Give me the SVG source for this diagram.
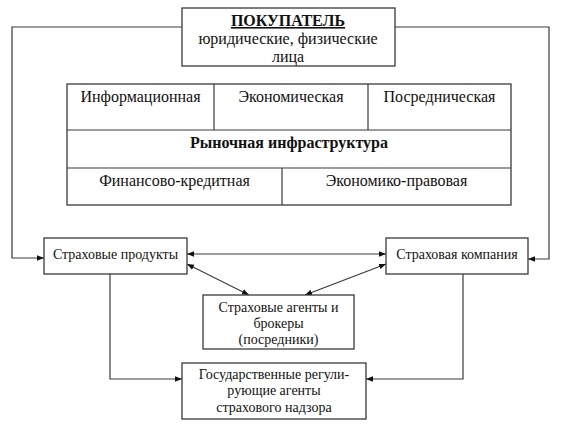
<svg xmlns="http://www.w3.org/2000/svg" width="561" height="428" viewBox="0 0 561 428">
<style>
.box{fill:#fff;stroke:#3a3a3a;stroke-width:1.3}
.ln{fill:none;stroke:#3a3a3a;stroke-width:1.2}
.t15{font-family:"Liberation Serif","Times New Roman",serif;font-size:16px;fill:#111;text-anchor:middle}
.t13{font-family:"Liberation Serif","Times New Roman",serif;font-size:14px;fill:#111;text-anchor:middle}
.b{font-weight:bold}
</style>
<defs>
<marker id="ah" viewBox="0 0 10 10" refX="10" refY="5" markerWidth="7" markerHeight="7" markerUnits="userSpaceOnUse" orient="auto-start-reverse">
<path d="M0,1 L10,5 L0,9 Z" fill="#111"/>
</marker>
</defs>
<rect width="561" height="428" fill="#fff"/>
<g id="connectors">
<path class="ln" d="M182,27 H12 V258 H44" marker-end="url(#ah)"/>
<path class="ln" d="M395,27 H549 V259 H528" marker-end="url(#ah)"/>
<line class="ln" x1="187" y1="254" x2="386" y2="254" marker-start="url(#ah)" marker-end="url(#ah)"/>
<line class="ln" x1="187" y1="264" x2="249" y2="295" marker-start="url(#ah)" marker-end="url(#ah)"/>
<line class="ln" x1="386" y1="264" x2="305" y2="295" marker-start="url(#ah)" marker-end="url(#ah)"/>
<path class="ln" d="M110,274 V379 H182" marker-end="url(#ah)"/>
<path class="ln" d="M463,274 V379 H366" marker-end="url(#ah)"/>
</g>
<g id="buyer">
<rect class="box" x="182" y="8" width="213" height="58"/>
<text class="t15 b" x="288" y="26" text-decoration="underline">ПОКУПАТЕЛЬ</text>
<text class="t15" x="288" y="44">юридические, физические</text>
<text class="t15" x="288" y="62">лица</text>
</g>
<g id="infrastructure">
<rect class="box" x="67" y="84" width="444" height="121"/>
<line class="ln" x1="67" y1="130" x2="511" y2="130"/>
<line class="ln" x1="67" y1="168" x2="511" y2="168"/>
<line class="ln" x1="214" y1="84" x2="214" y2="130"/>
<line class="ln" x1="368" y1="84" x2="368" y2="130"/>
<line class="ln" x1="282" y1="168" x2="282" y2="205"/>
<text class="t15" x="140.5" y="102">Информационная</text>
<text class="t15" x="291" y="102">Экономическая</text>
<text class="t15" x="439.5" y="102">Посредническая</text>
<text class="t15 b" x="289" y="148">Рыночная инфраструктура</text>
<text class="t15" x="174.5" y="186">Финансово-кредитная</text>
<text class="t15" x="396.5" y="186">Экономико-правовая</text>
</g>
<g id="products">
<rect class="box" x="44" y="238" width="143" height="36"/>
<text class="t13" x="115.5" y="259">Страховые продукты</text>
</g>
<g id="company">
<rect class="box" x="386" y="238" width="142" height="36"/>
<text class="t13" x="457" y="259">Страховая компания</text>
</g>
<g id="agents">
<rect class="box" x="203" y="295" width="151" height="54"/>
<text class="t13" x="278.5" y="312">Страховые агенты и</text>
<text class="t13" x="278.5" y="328">брокеры</text>
<text class="t13" x="278.5" y="344">(посредники)</text>
</g>
<g id="regulators">
<rect class="box" x="182" y="363" width="184" height="56"/>
<text class="t13" x="274" y="379">Государственные регули-</text>
<text class="t13" x="274" y="395">рующие агенты</text>
<text class="t13" x="274" y="412">страхового надзора</text>
</g>
</svg>
